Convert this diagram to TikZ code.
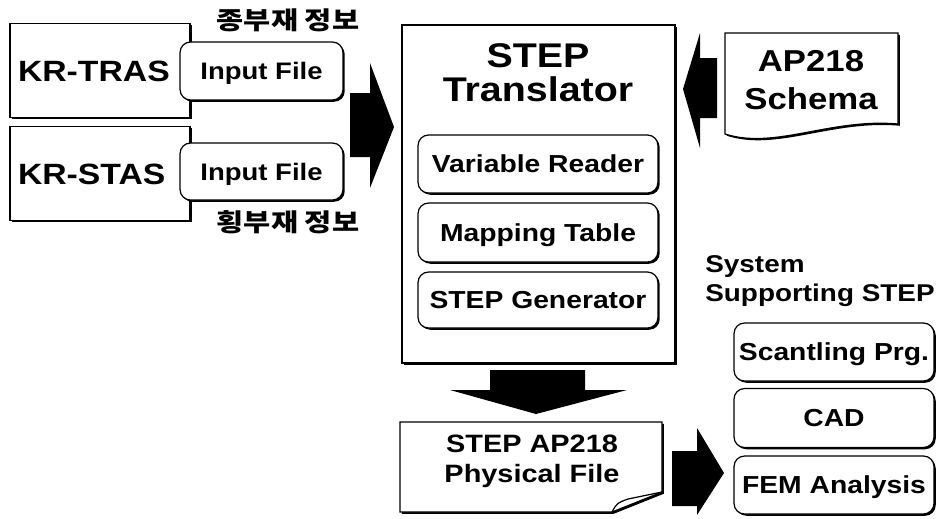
\documentclass[tikz,border=0pt]{standalone}
\usepackage{fontspec}
\setmainfont{Liberation Sans}[FakeStretch=1.15]
\newfontfamily\kofont{Noto Sans CJK KR}[FakeStretch=1.2]
\usetikzlibrary{shadows}

\tikzset{
  boxshadow/.style={drop shadow={shadow xshift=1pt, shadow yshift=-1pt, fill=black, opacity=1}},
  plainbox/.style={draw, fill=white, line width=0.7pt, boxshadow, inner sep=0pt,
    font=\bfseries\fontsize{14}{16}\selectfont, text height=10pt, text depth=0pt},
  roundbox/.style={plainbox, rounded corners=6pt},
  bigbox/.style={plainbox, minimum width=3.6cm, minimum height=1.88cm, text width=3.28cm,
    align=left, font=\bfseries\fontsize{16.7}{20}\selectfont, text height=12pt},
  kolabel/.style={font=\kofont\bfseries\fontsize{14}{16}\selectfont},
  blockarrow/.style={fill=black}
}

\begin{document}
\begin{tikzpicture}[x=0.02cm, y=-0.02cm]
\useasboundingbox (0,0) rectangle (936,518);

% input side
\node[bigbox] (tras) at (100,70.5) {KR-TRAS};
\node[bigbox] (stas) at (100,173.5) {KR-STAS};

\node[roundbox, minimum width=3.26cm, minimum height=1.16cm, font=\bfseries\fontsize{13.6}{16}\selectfont] (inTras) at (261.5,71) {Input File};
\node[roundbox, minimum width=3.26cm, minimum height=1.14cm, font=\bfseries\fontsize{13.6}{16}\selectfont] (inStas) at (261.5,171.5) {Input File};

\node[kolabel] (longi) at (288,20) {종부재 정보};
\node[kolabel] (transv) at (288,222) {횡부재 정보};

\fill[blockarrow] (350,93) -- (370,93) -- (370,63) -- (394,127) -- (370,188) -- (370,157) -- (350,157) -- cycle;

% translator
\node[plainbox, minimum width=5.46cm, minimum height=6.76cm] (trl) at (538.5,194) {};
\node[align=center, font=\bfseries\fontsize{19.5}{19.3}\selectfont] (trlTitle) at (538,72.5) {STEP\\Translator};

\node[roundbox, minimum width=4.8cm, minimum height=1.16cm] (reader) at (538,164) {Variable Reader};
\node[roundbox, minimum width=4.8cm, minimum height=1.18cm] (mapping) at (538,232.5) {Mapping Table};
\node[roundbox, minimum width=4.8cm, minimum height=1.12cm] (generator) at (538,300) {STEP Generator};

% schema
\draw[line width=0.7pt, fill=white, boxshadow] (725,33) -- (898,33) -- (898,124)
  .. controls (830,118) and (775,150) .. (725,134) -- cycle;
\node[align=center, font=\bfseries\fontsize{17.2}{21.6}\selectfont] (schema) at (811,80) {AP218\\Schema};

\fill[blockarrow] (717,58) -- (700,58) -- (700,33) -- (683,89) -- (700,148) -- (700,118) -- (717,118) -- cycle;

% output
\fill[blockarrow] (490,370) -- (585,370) -- (585,390) -- (627,390) -- (536,414) -- (450,390) -- (490,390) -- cycle;

\draw[line width=0.7pt, fill=white, boxshadow] (400,422) -- (662,422) -- (662,492) -- (612,512) -- (400,512) -- cycle;
\draw[line width=0.7pt] (612,512) .. controls (617,503) .. (628,499) -- (662,492);
\node[align=center, font=\bfseries\fontsize{14.3}{17}\selectfont] (phys) at (532,461) {STEP AP218\\Physical File};

\fill[blockarrow] (672,451) -- (697,451) -- (697,428) -- (724,473) -- (697,515) -- (697,506) -- (672,506) -- cycle;

\node[anchor=north west, align=left, inner sep=0pt, font=\bfseries\fontsize{13.8}{16.7}\selectfont] (sysLabel) at (705,255) {System\\Supporting STEP};

\node[roundbox, minimum width=4cm, minimum height=1.16cm] (scant) at (834,352) {Scantling Prg.};
\node[roundbox, minimum width=4cm, minimum height=1.18cm] (cad) at (834,418) {CAD};
\node[roundbox, minimum width=4cm, minimum height=1.16cm] (fem) at (834,485) {FEM Analysis};

\end{tikzpicture}
\end{document}
